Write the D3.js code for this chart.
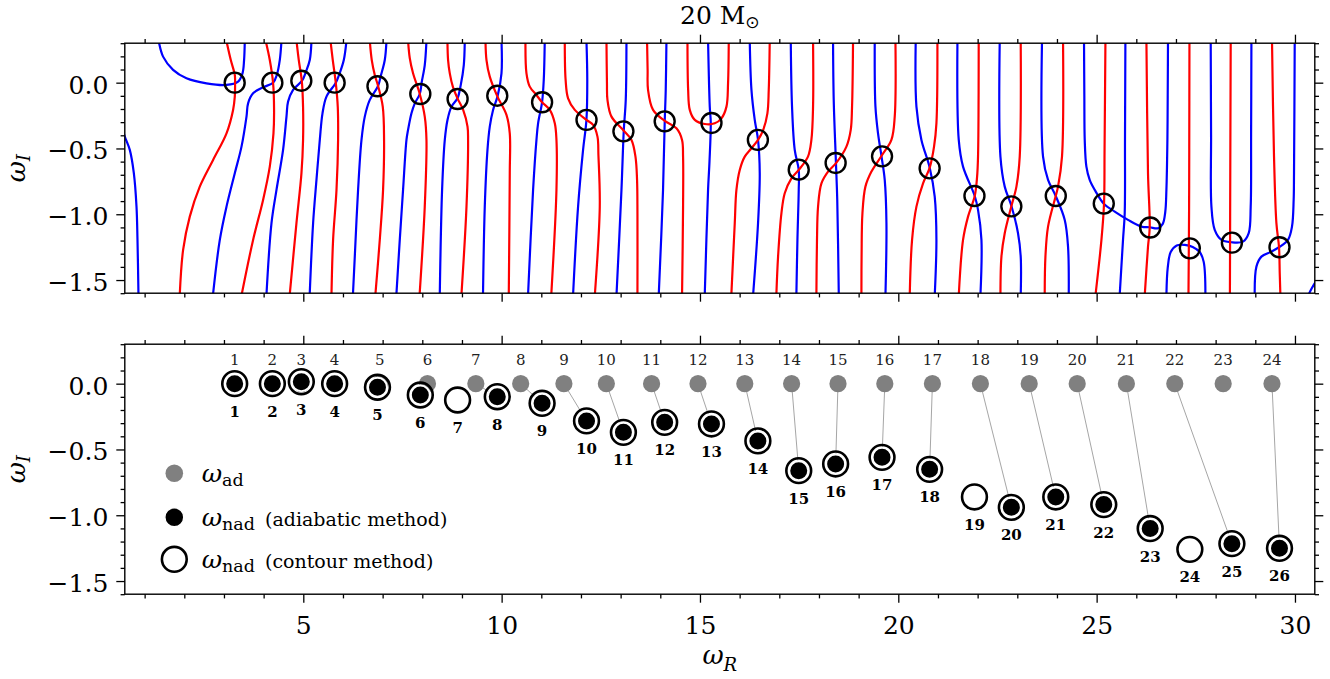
<!DOCTYPE html>
<html>
<head>
<meta charset="utf-8">
<script src="https://cdn.jsdelivr.net/npm/d3@7"></script>
<style>
  body { margin: 0; background: #fff; }
  svg { display: block; }
</style>
</head>
<body>
<svg id="chart" width="1330" height="679"></svg>
<script>
// ---------------------------------------------------------------
// Data
// ---------------------------------------------------------------
const xDomain = [0.5, 30.5];
const yDomain = [-1.6, 0.3];
const xMajorTicks = [5, 10, 15, 20, 25, 30];
const xMinorTicks = [1, 2, 3, 4, 6, 7, 8, 9, 11, 12, 13, 14, 16, 17, 18, 19, 21, 22, 23, 24, 26, 27, 28, 29];
const yMajorTicks = [0, -0.5, -1.0, -1.5];
const yMinorTicks = [-1.6, -1.4, -1.3, -1.2, -1.1, -0.9, -0.8, -0.7, -0.6, -0.4, -0.3, -0.2, -0.1, 0.1, 0.2, 0.3];

// Zero contours of the real part (red) of the discriminant, points [omega_R, omega_I]
const redContours = [
  [[3.06,0.32],[3.172,0.172],[3.273,0.059],[3.28,-0.002],[3.273,-0.106],[3.23,-0.207],[3.064,-0.385],[2.726,-0.587],[2.39,-0.79],[2.138,-1.018],[1.97,-1.271],[1.884,-1.62]],
  [[4.05,0.32],[4.155,0.172],[4.238,-0.002],[4.263,-0.207],[4.248,-0.385],[4.155,-0.638],[3.986,-0.891],[3.734,-1.195],[3.44,-1.62]],
  [[4.828,0.32],[4.886,0.172],[4.962,0.013],[4.994,-0.185],[4.994,-0.435],[4.954,-0.686],[4.828,-1.066],[4.655,-1.62]],
  [[5.685,0.32],[5.743,0.172],[5.819,-0.002],[5.869,-0.185],[5.877,-0.435],[5.837,-0.815],[5.751,-1.195],[5.71,-1.62]],
  [[6.676,0.32],[6.726,0.172],[6.802,0.059],[6.885,-0.025],[7.003,-0.182],[7.036,-0.435],[7.011,-0.815],[6.928,-1.195],[6.815,-1.62]],
  [[7.641,0.32],[7.684,0.187],[7.767,0.071],[7.936,-0.086],[8.062,-0.258],[8.105,-0.435],[8.062,-0.942],[7.93,-1.62]],
  [[8.634,0.32],[8.65,0.172],[8.693,0.071],[8.77,-0.03],[8.887,-0.119],[9.03,-0.207],[9.14,-0.334],[9.154,-0.435],[9.114,-0.942],[8.985,-1.62]],
  [[9.593,0.32],[9.618,0.172],[9.701,0.046],[9.895,-0.106],[10.122,-0.245],[10.205,-0.385],[10.205,-0.688],[10.18,-1.62]],
  [[10.601,0.32],[10.626,0.071],[10.709,-0.03],[10.878,-0.094],[11.019,-0.149],[11.214,-0.207],[11.34,-0.309],[11.382,-0.435],[11.382,-0.815],[11.25,-1.62]],
  [[11.592,0.32],[11.613,0.021],[11.675,-0.119],[11.844,-0.207],[12.138,-0.283],[12.306,-0.321],[12.416,-0.41],[12.44,-0.55],[12.474,-0.942],[12.348,-1.62]],
  [[12.643,0.32],[12.655,0.0],[12.668,-0.131],[12.769,-0.258],[13.079,-0.365],[13.273,-0.435],[13.374,-0.562],[13.414,-0.739],[13.424,-1.0],[13.424,-1.62]],
  [[13.666,0.32],[13.68,0.1],[13.691,-0.055],[13.817,-0.207],[14.112,-0.291],[14.407,-0.347],[14.548,-0.435],[14.574,-0.562],[14.574,-0.942],[14.548,-1.62]],
  [[14.685,0.32],[14.702,-0.055],[14.743,-0.207],[14.869,-0.283],[15.12,-0.314],[15.373,-0.309],[15.541,-0.271],[15.668,-0.182],[15.708,-0.005],[15.726,0.32]],
  [[16.759,0.32],[16.734,-0.055],[16.70,-0.233],[16.595,-0.359],[16.464,-0.435],[16.298,-0.498],[16.129,-0.562],[16.003,-0.663],[15.919,-0.815],[15.877,-1.068],[15.79,-1.62]],
  [[17.851,0.32],[17.851,-0.182],[17.809,-0.435],[17.723,-0.562],[17.49,-0.663],[17.306,-0.727],[17.137,-0.84],[17.054,-0.992],[16.969,-1.322],[16.925,-1.62]],
  [[18.859,0.32],[18.834,-0.182],[18.801,-0.359],[18.692,-0.486],[18.44,-0.608],[18.229,-0.676],[18.062,-0.765],[17.977,-0.942],[17.95,-1.2],[17.935,-1.62]],
  [[19.928,0.32],[19.91,-0.258],[19.826,-0.435],[19.575,-0.557],[19.323,-0.676],[19.171,-0.79],[19.096,-0.992],[19.075,-1.3],[19.07,-1.62]],
  [[20.986,0.32],[20.961,-0.309],[20.901,-0.486],[20.792,-0.646],[20.624,-0.765],[20.457,-0.942],[20.347,-1.195],[20.288,-1.62]],
  [[22.027,0.32],[22.01,-0.562],[21.985,-0.72],[21.927,-0.861],[21.758,-1.018],[21.632,-1.195],[21.524,-1.62]],
  [[23.086,0.32],[23.061,-0.562],[22.978,-0.79],[22.852,-0.937],[22.683,-1.144],[22.6,-1.322],[22.575,-1.62]],
  [[24.153,0.32],[24.127,-0.562],[24.027,-0.79],[23.969,-0.861],[23.775,-1.094],[23.709,-1.322],[23.691,-1.62]],
  [[25.222,0.32],[25.2,-0.5],[25.186,-0.922],[25.121,-1.195],[24.969,-1.62]],
  [[26.255,0.32],[26.295,-0.688],[26.338,-1.099],[26.295,-1.246],[26.212,-1.62]],
  [[27.34,0.32],[27.335,-0.5],[27.33,-1.0],[27.315,-1.62]],
  [[28.38,0.32],[28.37,-0.6],[28.36,-1.62]],
  [[29.421,0.32],[29.472,-0.562],[29.532,-1.068],[29.598,-1.251],[29.616,-1.448],[29.633,-1.62]]
];

// Zero contours of the imaginary part (blue), points [omega_R, omega_I]
const blueContours = [
  [[0.44,-0.35],[0.5,-0.41],[0.626,-0.511],[0.727,-0.686],[0.795,-0.942],[0.82,-1.195],[0.845,-1.62]],
  [[1.355,0.32],[1.365,0.30],[1.465,0.198],[1.717,0.097],[2.055,0.033],[2.559,-0.005],[3.064,-0.017],[3.356,0.008],[3.467,0.071],[3.507,0.172],[3.525,0.32]],
  [[4.45,0.32],[4.407,0.172],[4.332,0.059],[4.238,0.0],[3.986,-0.035],[3.734,-0.081],[3.608,-0.157],[3.568,-0.258],[3.442,-0.486],[3.273,-0.688],[3.064,-0.942],[2.895,-1.195],[2.72,-1.62]],
  [[5.206,0.32],[5.163,0.172],[5.063,0.081],[4.969,0.015],[4.742,-0.055],[4.616,-0.144],[4.576,-0.258],[4.49,-0.511],[4.324,-0.815],[4.198,-1.068],[4.07,-1.62]],
  [[6.089,0.32],[6.021,0.172],[5.92,0.074],[5.82,0.0],[5.584,-0.106],[5.484,-0.233],[5.416,-0.435],[5.332,-0.739],[5.247,-1.068],[5.16,-1.62]],
  [[7.097,0.32],[7.054,0.172],[6.953,0.051],[6.885,-0.025],[6.676,-0.131],[6.55,-0.258],[6.467,-0.435],[6.381,-0.815],[6.298,-1.322],[6.25,-1.62]],
  [[8.105,0.32],[8.062,0.134],[7.986,0.005],[7.936,-0.086],[7.811,-0.157],[7.727,-0.233],[7.641,-0.359],[7.601,-0.435],[7.515,-0.815],[7.432,-1.195],[7.345,-1.62]],
  [[9.071,0.32],[9.046,0.134],[8.97,-0.017],[8.887,-0.119],[8.736,-0.182],[8.635,-0.283],[8.567,-0.435],[8.499,-0.815],[8.44,-1.62]],
  [[9.996,0.32],[9.996,0.071],[9.895,-0.106],[9.784,-0.207],[9.701,-0.334],[9.643,-0.511],[9.575,-0.942],[9.53,-1.62]],
  [[11.087,0.32],[11.062,0.021],[11.019,-0.149],[10.919,-0.309],[10.878,-0.435],[10.793,-0.815],[10.665,-1.62]],
  [[12.138,0.32],[12.159,0.021],[12.138,-0.283],[12.053,-0.511],[11.927,-0.942],[11.8,-1.62]],
  [[13.147,0.32],[13.129,-0.131],[13.079,-0.365],[13.021,-0.815],[12.895,-1.62]],
  [[14.155,0.32],[14.137,-0.055],[14.112,-0.291],[14.069,-0.815],[13.96,-1.62]],
  [[15.204,0.32],[15.247,-0.182],[15.272,-0.304],[15.24,-0.6],[15.204,-0.815],[15.12,-1.62]],
  [[16.255,0.32],[16.298,-0.055],[16.381,-0.283],[16.464,-0.435],[16.507,-0.688],[16.464,-1.068],[16.338,-1.62]],
  [[17.289,0.32],[17.321,-0.182],[17.389,-0.511],[17.49,-0.663],[17.49,-0.815],[17.457,-1.195],[17.43,-1.62]],
  [[18.355,0.32],[18.372,-0.131],[18.428,-0.608],[18.461,-0.891],[18.5,-1.62]],
  [[19.406,0.32],[19.424,-0.182],[19.489,-0.385],[19.575,-0.557],[19.658,-0.739],[19.701,-1.068],[19.676,-1.62]],
  [[20.439,0.32],[20.457,-0.182],[20.583,-0.435],[20.792,-0.646],[20.918,-0.866],[20.961,-1.195],[20.918,-1.62]],
  [[21.491,0.32],[21.524,-0.435],[21.632,-0.638],[21.927,-0.861],[22.01,-0.967],[22.096,-1.195],[22.07,-1.62]],
  [[22.557,0.32],[22.575,-0.562],[22.683,-0.79],[22.852,-0.937],[23.018,-1.144],[23.086,-1.322],[23.086,-1.62]],
  [[23.623,0.32],[23.649,-0.562],[23.775,-0.739],[23.969,-0.861],[24.196,-1.043],[24.279,-1.246],[24.297,-1.62]],
  [[24.682,0.32],[24.69,-0.1],[24.7,-0.435],[24.742,-0.638],[24.825,-0.739],[24.952,-0.815],[25.186,-0.922],[25.456,-0.98],[25.791,-1.043],[26.129,-1.094],[26.338,-1.099],[26.547,-1.106],[26.667,-1.073],[26.73,-0.983],[26.759,-0.815],[26.784,-0.435],[26.792,-0.1],[26.799,0.32]],
  [[25.725,0.32],[25.715,-0.435],[25.708,-0.99],[25.665,-1.195],[25.58,-1.62]],
  [[26.759,-1.62],[26.792,-1.408],[26.867,-1.287],[27.019,-1.237],[27.22,-1.233],[27.422,-1.248],[27.598,-1.287],[27.699,-1.362],[27.742,-1.62]],
  [[27.876,0.32],[27.885,-0.4],[27.894,-0.942],[27.977,-1.119],[28.146,-1.195],[28.398,-1.213],[28.69,-1.208],[28.834,-1.144],[28.884,-0.942],[28.894,-0.4],[28.902,0.32]],
  [[28.985,-1.62],[29.028,-1.398],[29.154,-1.322],[29.406,-1.284],[29.598,-1.251],[29.824,-1.195],[29.925,-1.094],[29.967,-0.891],[29.976,-0.688],[29.994,0.32]],
  [[30.33,-1.62],[30.42,-1.565],[30.55,-1.50]]
];

// Adiabatic eigenfrequencies (omega_R, omega_I)
const adR = [3.27, 4.22, 4.95, 5.79, 6.93, 8.13, 9.35, 10.48, 11.57, 12.64, 13.78, 14.95, 16.13, 17.31, 18.48, 19.66, 20.86, 22.07, 23.30, 24.51, 25.75, 26.97, 28.19, 29.42];
const adI = [0, 0, 0, 0, 0, 0, 0, 0, 0, 0, 0, 0, 0, 0, 0, 0, 0, 0, 0, 0, 0, 0, 0, 0];

// Non-adiabatic eigenfrequencies from the contour method
const nadR = [3.27, 4.22, 4.95, 5.79, 6.87, 7.95, 8.89, 9.89, 11.02, 12.14, 13.07, 14.11, 15.29, 16.46, 17.49, 18.42, 19.59, 20.79, 21.92, 22.85, 23.97, 25.18, 26.35, 27.35, 28.41, 29.61];
const nadI = [0.0, 0.0, 0.015, 0.0, -0.027, -0.086, -0.124, -0.099, -0.149, -0.283, -0.370, -0.294, -0.306, -0.435, -0.661, -0.610, -0.560, -0.651, -0.861, -0.940, -0.861, -0.919, -1.101, -1.259, -1.216, -1.251];

// Non-adiabatic modes also recovered by the adiabatic method (mode numbers)
const adiabaticModes = [1, 2, 3, 4, 5, 6, 8, 9, 10, 11, 12, 13, 14, 15, 16, 17, 18, 20, 21, 22, 23, 25, 26];

// Non-adiabatic mode reached from each adiabatic mode (null: none)
const adToNad = [1, 2, 3, 4, 5, 6, 8, 9, 10, 11, 12, 13, 14, 15, 16, 17, 18, 20, 21, 22, 23, 25, null, 26];

// ---------------------------------------------------------------
// Layout
// ---------------------------------------------------------------
const FONT = '"DejaVu Serif", "DejaVu Sans", serif';
const svg = d3.select('#chart');
const X0 = 124.8, X1 = 1314.8;
const panels = {
  top: { y0: 43.2, y1: 293.2 },
  bot: { y0: 344.2, y1: 594.2 }
};

const x = d3.scaleLinear().domain(xDomain).range([X0, X1]);
const yTop = d3.scaleLinear().domain(yDomain).range([panels.top.y1, panels.top.y0]);
const yBot = d3.scaleLinear().domain(yDomain).range([panels.bot.y1, panels.bot.y0]);

const fmtY = d => (d < 0 ? '\u2212' : '') + Math.abs(d).toFixed(1);

function styleTicks(g) {
  g.select('.domain').remove();
  g.selectAll('.tick line').attr('stroke', '#000').attr('stroke-width', 1.3);
  g.attr('font-family', FONT).attr('font-size', 25).attr('color', '#000');
}

function drawFrame(y, p, xLabels) {
  const g = svg.append('g');
  // minor ticks
  g.append('g').attr('transform', `translate(0,${p.y1})`)
    .call(d3.axisBottom(x).tickValues(xMinorTicks).tickSize(4.2).tickSizeOuter(0).tickFormat(''))
    .call(styleTicks);
  g.append('g').attr('transform', `translate(0,${p.y0})`)
    .call(d3.axisTop(x).tickValues(xMinorTicks).tickSize(4.2).tickSizeOuter(0).tickFormat(''))
    .call(styleTicks);
  g.append('g').attr('transform', `translate(${X0},0)`)
    .call(d3.axisLeft(y).tickValues(yMinorTicks).tickSize(4.2).tickSizeOuter(0).tickFormat(''))
    .call(styleTicks);
  g.append('g').attr('transform', `translate(${X1},0)`)
    .call(d3.axisRight(y).tickValues(yMinorTicks).tickSize(4.2).tickSizeOuter(0).tickFormat(''))
    .call(styleTicks);
  // major ticks
  const bottom = g.append('g').attr('transform', `translate(0,${p.y1})`)
    .call(d3.axisBottom(x).tickValues(xMajorTicks).tickSize(8.5).tickSizeOuter(0)
      .tickPadding(13.5).tickFormat(xLabels ? d3.format('d') : ''))
    .call(styleTicks);
  bottom.selectAll('text').attr('dy', '0.71em');
  g.append('g').attr('transform', `translate(0,${p.y0})`)
    .call(d3.axisTop(x).tickValues(xMajorTicks).tickSize(8.5).tickSizeOuter(0).tickFormat(''))
    .call(styleTicks);
  const left = g.append('g').attr('transform', `translate(${X0},0)`)
    .call(d3.axisLeft(y).tickValues(yMajorTicks).tickSize(8.5).tickSizeOuter(0).tickPadding(8).tickFormat(fmtY))
    .call(styleTicks);
  left.selectAll('text').attr('dy', '0.42em');
  g.append('g').attr('transform', `translate(${X1},0)`)
    .call(d3.axisRight(y).tickValues(yMajorTicks).tickSize(8.5).tickSizeOuter(0).tickFormat(''))
    .call(styleTicks);
  // spines
  g.append('rect')
    .attr('x', X0).attr('y', p.y0).attr('width', X1 - X0).attr('height', p.y1 - p.y0)
    .attr('fill', 'none').attr('stroke', '#000').attr('stroke-width', 1.4);
  // y label
  const cy = (p.y0 + p.y1) / 2;
  const lab = svg.append('text')
    .attr('transform', `translate(25,${cy}) rotate(-90)`)
    .attr('text-anchor', 'middle').attr('font-family', FONT).attr('fill', '#000');
  lab.append('tspan').attr('font-size', 26).attr('font-style', 'italic').text('\u03c9');
  lab.append('tspan').attr('font-size', 18).attr('font-style', 'italic').attr('dy', 5).text('I');
  return g;
}

// ---------------------------------------------------------------
// Top panel: zero contours with the located roots
// ---------------------------------------------------------------
svg.append('defs').append('clipPath').attr('id', 'clipTop')
  .append('rect').attr('x', X0).attr('y', panels.top.y0)
  .attr('width', X1 - X0).attr('height', panels.top.y1 - panels.top.y0);

const contourLine = d3.line()
  .x(d => x(d[0])).y(d => yTop(d[1]))
  .curve(d3.curveCatmullRom.alpha(0.5));

const cg = svg.append('g').attr('clip-path', 'url(#clipTop)');
cg.selectAll('path.im').data(blueContours).join('path').attr('class', 'im')
  .attr('d', contourLine).attr('fill', 'none').attr('stroke', '#0000ff')
  .attr('stroke-width', 2.2).attr('stroke-linejoin', 'round');
cg.selectAll('path.re').data(redContours).join('path').attr('class', 're')
  .attr('d', contourLine).attr('fill', 'none').attr('stroke', '#ff0000')
  .attr('stroke-width', 2.2).attr('stroke-linejoin', 'round');

svg.append('g').selectAll('circle').data(nadR).join('circle')
  .attr('cx', d => x(d)).attr('cy', (d, i) => yTop(nadI[i]))
  .attr('r', 10).attr('fill', 'none').attr('stroke', '#000').attr('stroke-width', 2.4);

drawFrame(yTop, panels.top, false);

// title
const title = svg.append('text').attr('x', (X0 + X1) / 2).attr('y', 23.5)
  .attr('text-anchor', 'middle').attr('font-family', FONT).attr('font-size', 25).attr('fill', '#000');
title.append('tspan').text('20 M');
title.append('tspan').attr('font-size', 17).attr('dy', 4).attr('font-family', '"DejaVu Sans", sans-serif').text('\u2299');

// ---------------------------------------------------------------
// Bottom panel: adiabatic vs non-adiabatic eigenfrequencies
// ---------------------------------------------------------------
const bg = svg.append('g');

const links = adToNad.map((n, i) => n === null ? null : { i, j: n - 1 }).filter(Boolean);
bg.selectAll('line.link').data(links).join('line').attr('class', 'link')
  .attr('x1', d => x(adR[d.i])).attr('y1', d => yBot(adI[d.i]))
  .attr('x2', d => x(nadR[d.j])).attr('y2', d => yBot(nadI[d.j]))
  .attr('stroke', '#a6a6a6').attr('stroke-width', 1);

bg.selectAll('circle.ad').data(adR).join('circle').attr('class', 'ad')
  .attr('cx', d => x(d)).attr('cy', (d, i) => yBot(adI[i]))
  .attr('r', 8.6).attr('fill', '#808080');

bg.selectAll('text.adlab').data(adR).join('text').attr('class', 'adlab')
  .attr('x', d => x(d)).attr('y', (d, i) => yBot(adI[i]) - 18.7)
  .attr('text-anchor', 'middle').attr('font-family', FONT).attr('font-size', 15).attr('fill', '#222')
  .text((d, i) => i + 1);

bg.selectAll('circle.adm').data(adiabaticModes).join('circle').attr('class', 'adm')
  .attr('cx', m => x(nadR[m - 1])).attr('cy', m => yBot(nadI[m - 1]))
  .attr('r', 9.5).attr('fill', '#000').attr('stroke', '#fff').attr('stroke-width', 2);

bg.selectAll('circle.ring').data(nadR).join('circle').attr('class', 'ring')
  .attr('cx', d => x(d)).attr('cy', (d, i) => yBot(nadI[i]))
  .attr('r', 12.4).attr('fill', 'none').attr('stroke', '#000').attr('stroke-width', 2.6);

bg.selectAll('text.nadlab').data(nadR).join('text').attr('class', 'nadlab')
  .attr('x', d => x(d)).attr('y', (d, i) => yBot(nadI[i]) + 33)
  .attr('text-anchor', 'middle').attr('font-family', FONT).attr('font-size', 15)
  .attr('font-weight', 'bold').attr('fill', '#000')
  .text((d, i) => i + 1);

drawFrame(yBot, panels.bot, true);

// x label
const xl = svg.append('text').attr('x', (X0 + X1) / 2).attr('y', 663.5)
  .attr('text-anchor', 'middle').attr('font-family', FONT).attr('fill', '#000');
xl.append('tspan').attr('font-size', 26).attr('font-style', 'italic').text('\u03c9');
xl.append('tspan').attr('font-size', 18).attr('font-style', 'italic').attr('dy', 7).text('R');

// legend
const legendRows = [
  { y: 473.3, sub: 'ad', note: '' },
  { y: 517.3, sub: 'nad', note: '(adiabatic method)' },
  { y: 559.3, sub: 'nad', note: '(contour method)' }
];
const lg = svg.append('g');
lg.append('circle').attr('cx', 174.3).attr('cy', legendRows[0].y).attr('r', 8.8).attr('fill', '#808080');
lg.append('circle').attr('cx', 174.3).attr('cy', legendRows[1].y).attr('r', 9.5)
  .attr('fill', '#000').attr('stroke', '#fff').attr('stroke-width', 1.5);
lg.append('circle').attr('cx', 174.3).attr('cy', legendRows[2].y).attr('r', 12.4)
  .attr('fill', 'none').attr('stroke', '#000').attr('stroke-width', 2.6);
legendRows.forEach(r => {
  const t = lg.append('text').attr('x', 201.7).attr('y', r.y + 8.5)
    .attr('font-family', FONT).attr('fill', '#000');
  t.append('tspan').attr('font-size', 25).attr('font-style', 'italic').text('\u03c9');
  t.append('tspan').attr('font-size', 17.5).attr('dy', 4).text(r.sub);
  if (r.note) t.append('tspan').attr('font-size', 19).attr('dy', -4).attr('dx', 10).text(r.note);
});
</script>
</body>
</html>
